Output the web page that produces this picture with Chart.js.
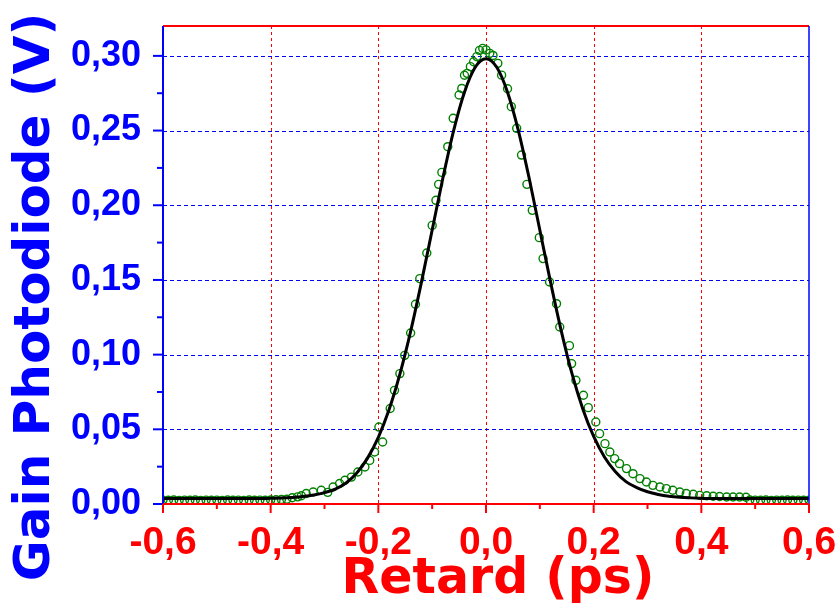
<!DOCTYPE html>
<html>
<head>
<meta charset="utf-8">
<script src="https://cdn.jsdelivr.net/npm/chart.js@4/dist/chart.umd.min.js"></script>
<style>
  html, body { margin: 0; padding: 0; background: #ffffff; }
  #wrap { width: 835px; height: 606px; }
</style>
</head>
<body>
<div id="wrap"><canvas id="chart" width="835" height="606"></canvas></div>
<script>
// Measured autocorrelation signal (delay in ps, photodiode signal in V)
const delayPs = [
  -0.60, -0.59, -0.58, -0.57, -0.56, -0.55, -0.54, -0.53, -0.52, -0.51,
  -0.50, -0.49, -0.48, -0.47, -0.46, -0.45, -0.44, -0.43, -0.42, -0.41,
  -0.40, -0.39, -0.38, -0.37, -0.36, -0.35, -0.343, -0.334, -0.321, -0.306,
  -0.294, -0.284, -0.272, -0.262, -0.250, -0.238, -0.225, -0.216, -0.207, -0.199,
  -0.192, -0.178, -0.170, -0.160, -0.151, -0.140, -0.131, -0.123, -0.110, -0.100,
  -0.093, -0.088, -0.082, -0.071, -0.061, -0.050, -0.045, -0.040, -0.035, -0.029,
  -0.023, -0.017, -0.012, -0.006, 0.000, 0.007, 0.013, 0.022, 0.029, 0.040,
  0.047, 0.057, 0.066, 0.076, 0.086, 0.099, 0.106, 0.118, 0.131, 0.137,
  0.155, 0.159, 0.167, 0.181, 0.190, 0.204, 0.211, 0.221, 0.230, 0.239,
  0.248, 0.261, 0.273, 0.286, 0.298, 0.310, 0.323, 0.335, 0.347, 0.360,
  0.372, 0.385, 0.397, 0.410, 0.422, 0.434, 0.447, 0.459, 0.471, 0.483,
  0.49, 0.50, 0.51, 0.52, 0.53, 0.54, 0.55, 0.56, 0.57, 0.58, 0.59, 0.60
];
const signalV = [
  0.0026, 0.0025, 0.0027, 0.0024, 0.0026, 0.0025, 0.0027, 0.0024, 0.0026, 0.0025,
  0.0026, 0.0024, 0.0027, 0.0025, 0.0026, 0.0024, 0.0027, 0.0025, 0.0026, 0.0025,
  0.0027, 0.0028, 0.0030, 0.0032, 0.0042, 0.0048, 0.0055, 0.0070, 0.0080, 0.0092,
  0.0078, 0.0114, 0.0137, 0.0159, 0.0180, 0.0214, 0.0248, 0.0292, 0.0348, 0.0515,
  0.0415, 0.0639, 0.0761, 0.0873, 0.0995, 0.1145, 0.1337, 0.1509, 0.1680, 0.1865,
  0.2033, 0.2140, 0.2220, 0.2392, 0.2582, 0.2738, 0.2782, 0.2870, 0.2883, 0.2928,
  0.2961, 0.2995, 0.3037, 0.3050, 0.3040, 0.3017, 0.3003, 0.2950, 0.2871, 0.2780,
  0.2660, 0.2515, 0.2336, 0.2140, 0.1966, 0.1783, 0.1643, 0.1486, 0.1341, 0.1185,
  0.1060, 0.0940, 0.0828, 0.0728, 0.0645, 0.0549, 0.0471, 0.0404, 0.0348, 0.0304,
  0.0270, 0.0237, 0.0203, 0.0170, 0.0147, 0.0125, 0.0114, 0.0103, 0.0092, 0.0080,
  0.0070, 0.0065, 0.0058, 0.0055, 0.0052, 0.0050, 0.0047, 0.0047, 0.0047, 0.0045,
  0.0027, 0.0026, 0.0025, 0.0027, 0.0024, 0.0026, 0.0025, 0.0027, 0.0025, 0.0026, 0.0025, 0.0026
];

// Fitted pulse profile
const fitDelayPs = [
  -0.60, -0.58, -0.56, -0.54, -0.52, -0.50, -0.48, -0.46, -0.44, -0.42,
  -0.40, -0.38, -0.36, -0.34, -0.32, -0.30, -0.28, -0.26, -0.24, -0.22,
  -0.20, -0.18, -0.16, -0.14, -0.12, -0.10, -0.08, -0.06, -0.04, -0.02,
  0.00, 0.02, 0.04, 0.06, 0.08, 0.10, 0.12, 0.14, 0.16, 0.18,
  0.20, 0.22, 0.24, 0.26, 0.28, 0.30, 0.32, 0.34, 0.36, 0.38,
  0.40, 0.42, 0.44, 0.46, 0.48, 0.50, 0.52, 0.54, 0.56, 0.58, 0.60
];
const fitSignalV = [
  0.0036, 0.0036, 0.0036, 0.0036, 0.0036, 0.0036, 0.0036, 0.0036, 0.0036, 0.0036,
  0.0038, 0.0040, 0.0044, 0.0050, 0.0060, 0.0076, 0.0100, 0.0141, 0.0208, 0.0307,
  0.0446, 0.0632, 0.0869, 0.1156, 0.1484, 0.1834, 0.2184, 0.2502, 0.2757, 0.2924,
  0.2981, 0.2924, 0.2757, 0.2502, 0.2184, 0.1834, 0.1484, 0.1156, 0.0869, 0.0635,
  0.0452, 0.0315, 0.0218, 0.0150, 0.0110, 0.0082, 0.0064, 0.0052, 0.0045, 0.0041,
  0.0038, 0.0036, 0.0036, 0.0036, 0.0036, 0.0036, 0.0036, 0.0036, 0.0036, 0.0036, 0.0036
];

// Axis ticks and titles
const xTicks = [-0.6, -0.4, -0.2, 0.0, 0.2, 0.4, 0.6];
const xMinorTicks = [-0.5, -0.3, -0.1, 0.1, 0.3, 0.5];
const yTicks = [0.00, 0.05, 0.10, 0.15, 0.20, 0.25, 0.30];
const yMinorTicks = [0.025, 0.075, 0.125, 0.175, 0.225, 0.275];
const xTitle = 'Retard (ps)';
const yTitle = 'Gain Photodiode (V)';

const RED = '#ff0000';
const BLUE = '#0000ff';
const GREEN = 'rgb(0,128,0)';
const TITLE_FONT = '"DejaVu Sans", "Liberation Sans", Arial, sans-serif';
const TICK_FONT = '"Liberation Sans", Arial, sans-serif';

function decimalComma(v, digits) {
  return (Math.abs(v) < 1e-9 ? 0 : v).toFixed(digits).replace('.', ',');
}

const measured = delayPs.map((x, i) => ({ x: x, y: signalV[i] }));
const fitted = fitDelayPs.map((x, i) => ({ x: x, y: fitSignalV[i] }));

// Grid, frame, tick marks and axis titles
const decorations = {
  id: 'decorations',
  beforeDatasetsDraw(chart) {
    const { ctx, chartArea: a, scales: { x, y } } = chart;
    ctx.save();
    ctx.lineWidth = 1;
    ctx.strokeStyle = RED;
    ctx.setLineDash([3, 3]);
    xTicks.slice(1, -1).forEach(v => {
      const px = Math.round(x.getPixelForValue(v)) + 0.5;
      ctx.beginPath(); ctx.moveTo(px, a.top); ctx.lineTo(px, a.bottom); ctx.stroke();
    });
    ctx.strokeStyle = BLUE;
    ctx.setLineDash([4, 3]);
    yTicks.slice(1).forEach(v => {
      const py = Math.round(y.getPixelForValue(v)) + 0.5;
      ctx.beginPath(); ctx.moveTo(a.left, py); ctx.lineTo(a.right, py); ctx.stroke();
    });
    ctx.restore();
  },
  afterDatasetsDraw(chart) {
    const { ctx, chartArea: a, scales: { x, y } } = chart;
    ctx.save();
    ctx.setLineDash([]);
    ctx.lineWidth = 2;
    // top (red) and right (blue) frame
    ctx.strokeStyle = RED;
    ctx.beginPath(); ctx.moveTo(a.left, a.top); ctx.lineTo(a.right, a.top); ctx.stroke();
    ctx.strokeStyle = BLUE;
    ctx.lineWidth = 1.5;
    ctx.beginPath(); ctx.moveTo(a.right, a.top); ctx.lineTo(a.right, a.bottom); ctx.stroke();
    // left axis with ticks
    ctx.lineWidth = 2;
    ctx.beginPath(); ctx.moveTo(a.left, a.top); ctx.lineTo(a.left, a.bottom); ctx.stroke();
    yTicks.forEach(v => {
      const py = y.getPixelForValue(v);
      ctx.beginPath(); ctx.moveTo(a.left - 10, py); ctx.lineTo(a.left, py); ctx.stroke();
    });
    yMinorTicks.forEach(v => {
      const py = y.getPixelForValue(v);
      ctx.beginPath(); ctx.moveTo(a.left - 6, py); ctx.lineTo(a.left, py); ctx.stroke();
    });
    // bottom axis with ticks
    ctx.strokeStyle = RED;
    ctx.beginPath(); ctx.moveTo(a.left, a.bottom); ctx.lineTo(a.right, a.bottom); ctx.stroke();
    xTicks.forEach(v => {
      const px = x.getPixelForValue(v);
      ctx.beginPath(); ctx.moveTo(px, a.bottom); ctx.lineTo(px, a.bottom + 9); ctx.stroke();
    });
    xMinorTicks.forEach(v => {
      const px = x.getPixelForValue(v);
      ctx.beginPath(); ctx.moveTo(px, a.bottom); ctx.lineTo(px, a.bottom + 5); ctx.stroke();
    });
    // axis titles
    ctx.fillStyle = RED;
    ctx.font = 'bold 49px ' + TITLE_FONT;
    ctx.textAlign = 'center';
    ctx.textBaseline = 'alphabetic';
    ctx.fillText(xTitle, 498, 593);
    ctx.translate(36, 297);
    ctx.rotate(-Math.PI / 2);
    ctx.fillStyle = BLUE;
    ctx.font = 'bold 50px ' + TITLE_FONT;
    ctx.textBaseline = 'middle';
    ctx.fillText(yTitle, 0, 0);
    ctx.restore();
  }
};

new Chart(document.getElementById('chart'), {
  data: {
    datasets: [
      {
        type: 'line',
        label: 'Fit',
        data: fitted,
        borderColor: '#000000',
        borderWidth: 3,
        pointRadius: 0,
        fill: false,
        cubicInterpolationMode: 'monotone',
        order: 0
      },
      {
        type: 'scatter',
        label: 'Mesure',
        data: measured,
        pointStyle: 'circle',
        pointRadius: 4,
        borderWidth: 1.4,
        borderColor: GREEN,
        backgroundColor: 'rgba(0,0,0,0)',
        order: 1
      }
    ]
  },
  options: {
    responsive: false,
    animation: false,
    devicePixelRatio: 1,
    layout: { padding: { left: 0, right: 26, top: 26, bottom: 0 } },
    plugins: { legend: { display: false }, tooltip: { enabled: false } },
    scales: {
      x: {
        type: 'linear',
        min: -0.6,
        max: 0.6,
        afterBuildTicks: s => { s.ticks = xTicks.map(v => ({ value: v })); },
        afterFit: s => { s.height = 102; s.paddingLeft = 0; s.paddingRight = 0; },
        grid: { display: false },
        border: { display: false },
        ticks: {
          color: RED,
          font: { family: TICK_FONT, weight: 'bold', size: 39 },
          padding: 8,
          maxRotation: 0,
          autoSkip: false,
          callback: v => decimalComma(v, 1)
        }
      },
      y: {
        type: 'linear',
        min: 0,
        max: 0.32,
        afterBuildTicks: s => { s.ticks = yTicks.map(v => ({ value: v })); },
        afterFit: s => { s.width = 163; s.paddingTop = 0; s.paddingBottom = 0; },
        grid: { display: false },
        border: { display: false },
        ticks: {
          color: BLUE,
          font: { family: TICK_FONT, weight: 'bold', size: 36 },
          padding: 14,
          autoSkip: false,
          callback: v => decimalComma(v, 2)
        }
      }
    }
  },
  plugins: [decorations]
});
</script>
</body>
</html>
